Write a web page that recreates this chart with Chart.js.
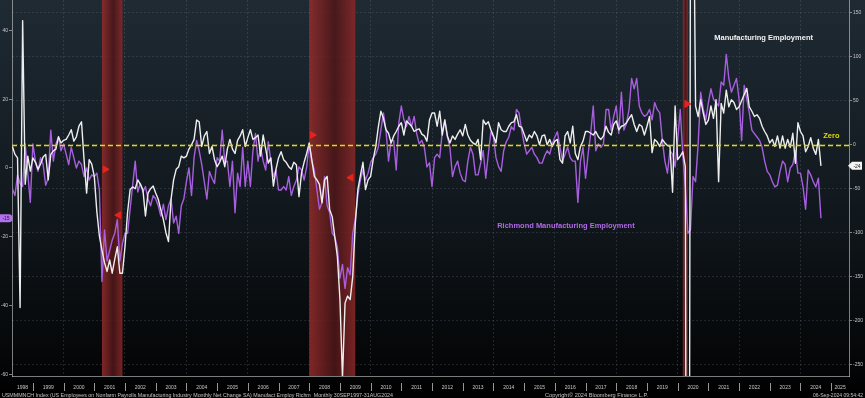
<!DOCTYPE html>
<html>
<head>
<meta charset="utf-8">
<script src="https://cdn.jsdelivr.net/npm/chart.js@4.4.0/dist/chart.umd.min.js"></script>
<style>
html,body{margin:0;padding:0;background:#000;overflow:hidden}
canvas{display:block}
</style>
</head>
<body>
<canvas id="c" width="865" height="398"></canvas>
<script>
// ---------- DATA ----------
const firstMonth = { year: 1998, month: 4 }; // first monthly observation shown (Apr 1998), monthly through Aug 2024

// US manufacturing payrolls, monthly net change (thousands) - right axis
const manufEmployment = [
  -2, -11, -15, -185, 141, -45, -13, -30, -15,                 // 1998 Apr-Dec
  -20, -28, -22, -14, -11, -40, -11, -7, -5, 9, 2, 5,          // 1999
  6, 11, 17, 4, 9, 21, 26, -17, -55, -17, -22, -36,            // 2000
  -76, -104, -120, -134, -144, -131, -146, -130, -116, -146, -146, -116, // 2001
  -77, -51, -48, -50, -40, -45, -51, -81, -55, -50, -47, -55,  // 2002
  -62, -74, -85, -100, -110, -62, -40, -28, -25, -13, -15, -13, // 2003
  -5, 0, 6, 28, 26, -2, 10, 15, -10, -2, -17, -25,             // 2004
  -20, -13, -25, -5, 6, -5, -10, 5, 10, 17, -2, 8,             // 2005
  17, 6, 8, 11, -13, 11, -5, -21, -15, -47, -28, -15,          // 2006
  -8, -17, -20, -25, -28, -20, -23, -59, -32, -20, -10, 2,     // 2007
  -17, -36, -40, -45, -66, -40, -36, -74, -82, -105, -127, -175, // 2008
  -265, -180, -172, -176, -150, -90, -51, -35, -20, -51, -40, -36, // 2009
  -17, -2, 20, 38, 30, 17, 13, 2, 10, 15, 21, 25,              // 2010
  11, 27, 24, 21, 15, 17, 18, 12, 10, 4, 28, 36,               // 2011
  36, 21, 38, 11, 28, 10, 2, 10, 6, 12, 17, 10,                // 2012
  23, 11, 5, 2, 0, 6, -17, 28, 23, 26, 17, 10,                 // 2013
  2, 25, 17, 15, 15, 21, 25, 26, 34, 21, 20, 12,               // 2014
  4, 11, 8, 15, 10, 0, 10, 11, 0, 6, -2, 4,                    // 2015
  6, -17, -21, 10, 15, 2, 21, -10, -17, -2, 4, 15,             // 2016
  15, 13, 11, 15, 9, 6, 10, 21, 14, 11, 23, 27,                // 2017
  17, 21, 22, 25, 30, 34, 23, 15, 23, 21, 11, 21,              // 2018
  32, -9, 6, 3, -2, 6, 2, -1, -2, -54, 44, -17,                // 2019
  -13, -8, -25, -1330, 250, 356, 44, 32, 51, 36, 23, 28,       // 2020
  44, 30, 51, -42, 47, 36, 62, 43, 51, 48, 40, 43,             // 2021
  50, 57, 64, 43, 38, 32, 34, 30, 21, 15, 10, 2,               // 2022
  6, -2, 10, -4, 10, -4, 6, -3, 13, -21, 25, 15,               // 2023
  10, -8, -2, 8, -4, -11, 6, -24                               // 2024 Jan-Aug
];

// Richmond Fed manufacturing employment index - left axis
const richmondEmployment = [
  -6, -8, -2, -4.5, -5.4, 7, -1.5, -10, 7,                     // 1998 Apr-Dec
  2, -1, 3, 1, -5, -3, 11, 2, 7, 9, 5, 7,                      // 1999
  4, 1, 6, 3, 0, 2, 1, -2.5, 0, -3.5, -2, -2.5,                // 2000
  -1.5, -6.4, -33, -18, -27, -24, -21, -19, -15, -27, -22, -19, // 2001
  -19, -12, -5, 2, -7, -4.5, -7, -5.4, -9, -11, -8, -9,        // 2002
  -11, -14, -10.5, -15, -11, -9, -16, -14, -19, -11, -9, -4,   // 2003
  0, -8, 3, 8, 5, 1, -4, -9, -1, -3, -4.5, 3,                  // 2004
  2, 11, 1.5, 2, -5.4, 2, -13, -1.5, -5.4, 6, -5.4, 2,         // 2005
  -5.4, 5, 10, 2, 6, 2, -0.6, 7.6, 2, -2.5, -0.6, -6.4,        // 2006
  -6.4, -5.4, -6.4, -2.5, -8, -5.4, -3.5, 0.3, -0.6, -3.5, 0.3, 7, // 2007
  2, -0.6, -6.4, -12, -10, -2.5, -11, -13, -19, -20, -23, -32, // 2008
  -28, -35, -29, -31, -19, -15, -8, -3.5, -0.6, -3.5, -1.5, 1.5, // 2009
  3, 4, 6, 11, 16, 11, 2, 8, 8, -0.6, 13, 18,                  // 2010
  14, 12, 15, 12, 15, 10, 7, 8, 6, 0.3, 1.5, -5.4,             // 2011
  3, 4, 3, 10.5, 14, 9, 6, -2.5, 0.4, 2, -1.5, -3.5,           // 2012
  -4, 2, 6, 4, -2, -2, 1.4, 5, -3, 4, 10.5, 9,                 // 2013
  3, 0.4, -1, 5, 7.6, 9, 12, 11, 17, 16, 11, 7,                // 2014
  4, 5, 6, 4, 3, 1.4, 1.4, 3.5, 5, 4, 7, 9,                    // 2015
  10.5, 6, 2, 4, 6, 3, 2, 2, -10, 2, 6, -3,                    // 2016
  4, 10, 18, 5, 7, 6, 7, 17, 17, 11, 15, 18,                   // 2017
  10, 22, 11, 13, 17, 26, 23, 26, 18, 16, 15, 15.5,            // 2018
  17, 14, 19, 17, 16, 8, 2, -1.5, 5, 4, 0.3, 8,                // 2019
  17, 4, -5.5, -19, -18, -2.5, -4, 7, 22, 17, 14, 19,          // 2020
  23, 20, 19, 18, 25, 24, 33, 26, 22, 24, 26, 20,              // 2021
  8, 24, 20, 16, 11, 10, 9, 8, 6, 2, -1, -2,                   // 2022
  -4, -5.5, -5, -1, 2, 1, -4, 0, 1, 5, -1.5, -1.5,             // 2023
  -5.5, -12, -0.6, -2, -4, -5.5, -3, -14.6                     // 2024 Jan-Aug
];

// NBER recessions (decimal years)
const recessions = [[2001.25, 2001.917], [2008.0, 2009.5], [2020.167, 2020.333]];

// recession event markers (decimal year, left-axis value, direction)
const markerDates = [2001.35, 2001.80, 2008.10, 2009.36, 2020.30];
const markerValues = [-0.4, -13.7, 9.6, -2.8, 18.6];
const markerDirs = ['start', 'end', 'start', 'end', 'start'];

const yearLabels = [1998, 1999, 2000, 2001, 2002, 2003, 2004, 2005, 2006, 2007, 2008, 2009, 2010, 2011,
  2012, 2013, 2014, 2015, 2016, 2017, 2018, 2019, 2020, 2021, 2022, 2023, 2024, 2025];
const leftTicks = [-60, -40, -20, 0, 20, 40];
const rightTicks = [-250, -200, -150, -100, -50, 0, 50, 100, 150];
const zeroLevel = 0;

const seriesNames = ['Manufacturing Employment', 'Richmond Manufacturing Employment'];
const footerLeft = 'USMMMNCH Index (US Employees on Nonfarm Payrolls Manufacturing Industry Monthly Net Change SA) Manufact Employ Richm  Monthly 30SEP1997-31AUG2024';
const footerMid = 'Copyright\u00A9 2024 Bloomberg Finance L.P.';
const footerRight = '06-Sep-2024 09:54:42';

// ---------- SETUP ----------
const FONT = "'Liberation Sans Narrow', 'Liberation Sans', Arial, sans-serif";
const X_MIN = 1998.32, X_MAX = 2025.58;
const WHITE = '#eeeeee';
const PURPLE = '#a75fdf';
const YELLOW = '#e3d80c';

function monthEnd(i) {
  return firstMonth.year + (firstMonth.month + i) / 12;
}
const whitePts = manufEmployment.map((v, i) => ({ x: monthEnd(i), y: v }));
const purplePts = richmondEmployment.map((v, i) => ({ x: monthEnd(i), y: v }));
const markerPts = markerDates.map((d, i) => ({ x: d, y: markerValues[i] }));

// x ticks: year boundaries (dividers / grid) + centres of visible year spans (labels)
const xTicks = [];
yearLabels.forEach(y => {
  if (y > X_MIN && y < X_MAX) xTicks.push({ value: y });
  const c = (Math.max(y, X_MIN) + Math.min(y + 1, X_MAX)) / 2;
  xTicks.push({ value: c });
});
xTicks.sort((a, b) => a.value - b.value);

// text annotations positioned in data coordinates
const annotations = [
  { text: seriesNames[0], x: 2021.19, y: 121.6, axis: 'y2', color: '#f2f2f2' },
  { text: seriesNames[1], x: 2014.12, y: -16.85, axis: 'y', color: '#b06ae8' },
  { text: 'Zero', x: 2024.74, y: 10.2, axis: 'y2', color: YELLOW }
];

const bgPlugin = {
  id: 'bg',
  beforeDraw(chart) {
    const { ctx, width, height } = chart;
    const g = ctx.createLinearGradient(0, 0, 0, height);
    g.addColorStop(0, '#1f2a33');
    g.addColorStop(0.45, '#131b21');
    g.addColorStop(0.93, '#040506');
    g.addColorStop(1, '#000000');
    ctx.save();
    ctx.fillStyle = g;
    ctx.fillRect(0, 0, width, height);
    ctx.restore();
  }
};

const bandPlugin = {
  id: 'bands',
  beforeDatasetsDraw(chart) {
    const { ctx, chartArea: a, scales: { x } } = chart;
    ctx.save();
    ctx.beginPath();
    ctx.rect(a.left, a.top, a.right - a.left, a.bottom - a.top);
    ctx.clip();
    recessions.forEach(([s, e]) => {
      const x1 = x.getPixelForValue(s), x2 = x.getPixelForValue(e);
      const g = ctx.createLinearGradient(x1, 0, x2, 0);
      g.addColorStop(0, 'rgba(150,44,44,0.85)');
      g.addColorStop(0.55, 'rgba(78,22,24,0.85)');
      g.addColorStop(1, 'rgba(140,40,40,0.85)');
      ctx.fillStyle = g;
      ctx.fillRect(x1, a.top, x2 - x1, a.bottom - a.top);
    });
    ctx.restore();
  }
};

const overlayPlugin = {
  id: 'overlay',
  afterDatasetsDraw(chart) {
    const { ctx, chartArea: a, scales } = chart;
    // zero line on right axis
    const yz = Math.round(scales.y2.getPixelForValue(zeroLevel)) + 0.5;
    ctx.save();
    ctx.strokeStyle = YELLOW;
    ctx.lineWidth = 1.5;
    ctx.setLineDash([5, 3]);
    ctx.beginPath();
    ctx.moveTo(a.left, yz);
    ctx.lineTo(a.right, yz);
    ctx.stroke();
    ctx.setLineDash([]);
    // annotations
    ctx.font = "bold 7.5px 'Liberation Sans', Arial, sans-serif";
    ctx.textBaseline = 'middle';
    ctx.textAlign = 'left';
    annotations.forEach(t => {
      ctx.fillStyle = t.color;
      ctx.fillText(t.text, scales.x.getPixelForValue(t.x), scales[t.axis].getPixelForValue(t.y));
    });
    ctx.restore();
  },
  afterDraw(chart) {
    const { ctx, chartArea: a, scales } = chart;
    ctx.save();
    // year dividers in the label row
    ctx.strokeStyle = 'rgba(200,200,200,0.75)';
    ctx.lineWidth = 1;
    yearLabels.forEach(y => {
      if (y <= X_MIN || y >= X_MAX) return;
      const px = Math.round(scales.x.getPixelForValue(y)) + 0.5;
      ctx.beginPath();
      ctx.moveTo(px, a.bottom + 7);
      ctx.lineTo(px, a.bottom + 15);
      ctx.stroke();
    });
    // last value boxes
    const lastP = richmondEmployment[richmondEmployment.length - 1];
    const lastW = manufEmployment[manufEmployment.length - 1];
    const yp = scales.y.getPixelForValue(lastP);
    ctx.fillStyle = '#b270ea';
    ctx.beginPath();
    ctx.moveTo(0, yp - 4);
    ctx.lineTo(9, yp - 4);
    ctx.quadraticCurveTo(12.5, yp - 4, 12.5, yp);
    ctx.quadraticCurveTo(12.5, yp + 4, 9, yp + 4);
    ctx.lineTo(0, yp + 4);
    ctx.closePath();
    ctx.fill();
    ctx.fillStyle = '#2a1540';
    ctx.font = "5px 'Liberation Sans', Arial, sans-serif";
    ctx.textAlign = 'center';
    ctx.textBaseline = 'middle';
    ctx.fillText(String(Math.round(lastP)), 6, yp + 0.5);
    const yw = scales.y2.getPixelForValue(lastW);
    ctx.fillStyle = '#f4f4f4';
    ctx.beginPath();
    ctx.moveTo(a.right - 1, yw);
    ctx.lineTo(a.right + 3, yw - 4);
    ctx.lineTo(a.right + 13, yw - 4);
    ctx.lineTo(a.right + 13, yw + 4);
    ctx.lineTo(a.right + 3, yw + 4);
    ctx.closePath();
    ctx.fill();
    ctx.fillStyle = '#222';
    ctx.fillText(String(Math.round(lastW)), a.right + 8, yw + 0.5);
    // footer
    const fy = 395.5;
    ctx.fillStyle = '#c4c4c4';
    ctx.font = "5px 'Liberation Sans', Arial, sans-serif";
    ctx.textAlign = 'left';
    const fit = (txt, x0, w) => {
      const m = ctx.measureText(txt).width;
      ctx.save();
      ctx.translate(x0, fy);
      ctx.scale(w / m, 1);
      ctx.fillText(txt, 0, 0);
      ctx.restore();
    };
    fit(footerLeft, 2, 391);
    fit(footerMid, 545, 103);
    fit(footerRight, 813, 50);
    ctx.restore();
  }
};

const axisColor = 'rgba(205,205,205,0.6)';
const gridColor = 'rgba(125,140,155,0.22)';

new Chart(document.getElementById('c'), {
  type: 'line',
  data: {
    datasets: [
      {
        type: 'scatter', label: 'markers', data: markerPts, yAxisID: 'y',
        pointStyle: 'triangle', pointRadius: 4, pointHoverRadius: 4,
        backgroundColor: '#e6231e', borderColor: '#e6231e', borderWidth: 1,
        rotation: ctx => markerDirs[ctx.dataIndex] === 'start' ? 90 : -90,
        showLine: false, order: 0
      },
      {
        label: seriesNames[0], data: whitePts, yAxisID: 'y2',
        borderColor: WHITE, borderWidth: 1.4, pointRadius: 0, fill: false, order: 1
      },
      {
        label: seriesNames[1], data: purplePts, yAxisID: 'y',
        borderColor: PURPLE, borderWidth: 1.4, pointRadius: 0, fill: false, order: 2
      }
    ]
  },
  options: {
    responsive: false,
    animation: false,
    devicePixelRatio: 1,
    layout: { padding: 0, autoPadding: false },
    events: [],
    plugins: { legend: { display: false }, tooltip: { enabled: false } },
    elements: { line: { tension: 0, borderJoinStyle: 'round' }, point: { radius: 0 } },
    scales: {
      x: {
        type: 'linear', position: 'bottom', min: X_MIN, max: X_MAX,
        afterBuildTicks: s => { s.ticks = xTicks.map(t => ({ value: t.value })); },
        afterFit: s => { s.height = 22; s.paddingLeft = 0; s.paddingRight = 0; },
        grid: {
          drawTicks: false,
          color: c => (c.tick && Number.isInteger(c.tick.value) && c.tick.value % 2 === 0) ? gridColor : 'rgba(0,0,0,0)',
          lineWidth: 1
        },
        border: { display: true, color: axisColor, dash: [2, 2] },
        ticks: {
          autoSkip: false, maxRotation: 0, minRotation: 0, padding: 9,
          color: '#c8c8c8', font: { size: 5, family: FONT },
          callback: v => Number.isInteger(v) ? '' : String(Math.floor(v))
        }
      },
      y: {
        position: 'left', min: -60.44, max: 48.8,
        afterBuildTicks: s => { s.ticks = leftTicks.map(v => ({ value: v })); },
        afterFit: s => { s.width = 12; s.paddingTop = 0; s.paddingBottom = 0; },
        grid: { drawOnChartArea: false, drawTicks: true, tickLength: 3, tickColor: axisColor },
        border: { display: true, color: axisColor },
        ticks: { padding: 1, color: '#c8c8c8', font: { size: 5, family: FONT } }
      },
      y2: {
        position: 'right', min: -262.8, max: 164.4,
        afterBuildTicks: s => { s.ticks = rightTicks.map(v => ({ value: v })); },
        afterFit: s => { s.width = 16; s.paddingTop = 0; s.paddingBottom = 0; },
        grid: { drawOnChartArea: true, color: gridColor, drawTicks: true, tickLength: 3, tickColor: axisColor },
        border: { display: true, color: axisColor, dash: [2, 2] },
        ticks: { padding: 1, color: '#c8c8c8', font: { size: 5, family: FONT } }
      }
    }
  },
  plugins: [bgPlugin, bandPlugin, overlayPlugin]
});
</script>
</body>
</html>
